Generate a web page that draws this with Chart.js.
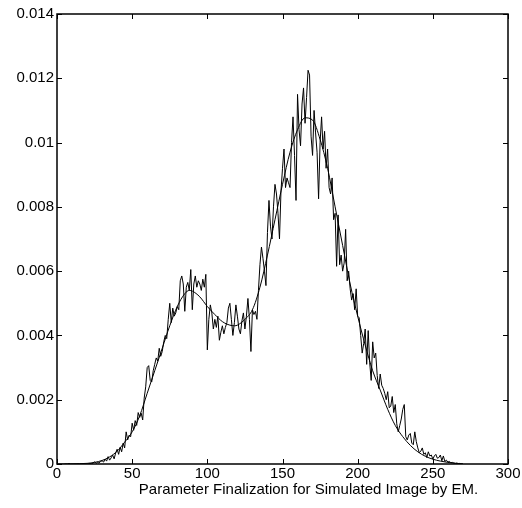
<!DOCTYPE html>
<html>
<head>
<meta charset="utf-8">
<script src="https://cdn.jsdelivr.net/npm/chart.js@4.4.1/dist/chart.umd.min.js"></script>
<style>
  html, body { margin: 0; padding: 0; background: #fff; }
  #wrap { width: 522px; height: 508px; }
</style>
</head>
<body>
<div id="wrap"><canvas id="c" width="522" height="508"></canvas></div>
<script>
// Histogram (noisy) series: one value per integer bin, starting at bin 5
const histStart = 5;
const histValues = [
  0,0,0,0.00002,0,0,0,0,0,0,
  0,0,0,0,0,0,0.00001,0.00002,0.00001,0.00003,
  0.00007,0.00002,0.00005,0.00003,0.00008,0.0001,0.00006,0.00015,0.00009,0.00023,
  0.00012,0.00019,0.00028,0.00016,0.00034,0.00046,0.0003,0.00052,0.00038,0.00065,
  0.0005,0.001,0.00075,0.0009,0.00085,0.00127,0.00105,0.00135,0.0012,0.0016,
  0.00145,0.00158,0.00137,0.00205,0.0024,0.003,0.00306,0.0026,0.00255,0.0029,
  0.0031,0.0033,0.0032,0.0036,0.00335,0.0035,0.0038,0.004,0.0039,0.0045,
  0.005,0.0044,0.00485,0.0046,0.0047,0.0049,0.0048,0.0057,0.00585,0.0056,
  0.00475,0.0055,0.00565,0.0054,0.00605,0.0048,0.0056,0.00585,0.0055,0.0057,
  0.0056,0.0054,0.00575,0.0055,0.0059,0.00355,0.0045,0.00495,0.0047,0.0042,
  0.0045,0.00425,0.0046,0.00385,0.0041,0.0043,0.00405,0.00425,0.0044,0.00485,
  0.005,0.0045,0.004,0.0044,0.00495,0.0046,0.0042,0.00405,0.00445,0.0047,
  0.0042,0.0046,0.00515,0.0045,0.0035,0.0048,0.00465,0.00475,0.0045,0.0054,
  0.0062,0.00675,0.0064,0.006,0.00555,0.0072,0.0082,0.0074,0.007,0.008,
  0.0087,0.0084,0.0078,0.007,0.0085,0.0092,0.0098,0.0086,0.0089,0.00875,
  0.0086,0.01,0.0108,0.0096,0.0082,0.0115,0.0104,0.0099,0.0112,0.0117,
  0.0106,0.0114,0.01225,0.0121,0.0102,0.0096,0.011,0.0103,0.0097,0.00825,
  0.01,0.0108,0.0098,0.01035,0.0092,0.0098,0.0086,0.0084,0.0089,0.0076,
  0.0078,0.00615,0.00775,0.0062,0.0065,0.006,0.00625,0.0073,0.0057,0.006,
  0.00545,0.0051,0.0053,0.0048,0.00545,0.0046,0.00455,0.004,0.00345,0.00375,
  0.0042,0.0031,0.00415,0.00315,0.0026,0.0038,0.0033,0.00345,0.00275,0.00235,
  0.0028,0.00245,0.00235,0.0022,0.002,0.00225,0.00175,0.0018,0.0021,0.0016,
  0.00185,0.00125,0.001,0.0012,0.0014,0.0017,0.00185,0.00085,0.00075,0.0009,
  0.00095,0.00065,0.0006,0.001,0.0007,0.0005,0.00035,0.0004,0.0005,0.0003,
  0.00035,0.0002,0.00038,0.00025,0.00028,0.00015,0.00025,0.0003,0.00018,0.0002,
  0.00028,0.0001,0.00025,0.00008,0.00012,0.00006,0.00008,0.00004,0.00005,0.00003,
  0.00002,0.00003,0.00001,0.00002
];

// Fitted (EM mixture) smooth curve
const fitX = [0,10,15,20,25,30,35,40,45,50,55,60,65,70,75,80,85,88,90,95,100,105,110,115,118,120,125,130,135,140,145,150,155,160,165,170,175,180,185,190,195,200,205,210,215,220,225,230,235,240,245,250,255,260,265,270];
const fitY = [0,0,0.00001,0.00002,0.00005,0.00011,0.00022,0.0004,0.00068,0.001,0.0015,0.0022,0.0029,0.0036,0.0043,0.0049,0.0053,0.0054,0.00538,0.0052,0.0049,0.00465,0.00443,0.00432,0.0043,0.00432,0.0045,0.0048,0.0055,0.0065,0.0076,0.0087,0.0097,0.0104,0.01077,0.0107,0.0101,0.0092,0.008,0.0068,0.0056,0.0046,0.0037,0.0029,0.0023,0.0017,0.0012,0.00085,0.00058,0.00038,0.00024,0.00015,0.00009,0.00005,0.00002,0.00001];

// Axis ticks
const xTickValues = [0,50,100,150,200,250,300];
const yTickValues = [0,0.002,0.004,0.006,0.008,0.01,0.012,0.014];
const yTickLabels = ['0','0.002','0.004','0.006','0.008','0.01','0.012','0.014'];
const xAxisLabel = 'Parameter Finalization for Simulated Image by EM.';

const histPoints = histValues.map((v, i) => ({ x: histStart + i, y: v }));
const fitPoints = fitX.map((x, i) => ({ x: x, y: fitY[i] }));

const FONT = '"Liberation Sans", Arial, Helvetica, sans-serif';

const framePlugin = {
  id: 'frame',
  afterDatasetsDraw(chart) {
    const { ctx, chartArea: a, scales } = chart;
    ctx.save();
    ctx.strokeStyle = '#000';
    ctx.lineWidth = 1.5;
    ctx.beginPath();
    ctx.rect(Math.round(a.left), Math.round(a.top), Math.round(a.right - a.left), Math.round(a.bottom - a.top));
    ctx.stroke();
    ctx.lineWidth = 1;
    const L = 5;
    ctx.beginPath();
    xTickValues.forEach(v => {
      const px = Math.round(scales.x.getPixelForValue(v)) + 0.5;
      ctx.moveTo(px, a.bottom); ctx.lineTo(px, a.bottom - L);
      ctx.moveTo(px, a.top); ctx.lineTo(px, a.top + L);
    });
    yTickValues.forEach(v => {
      const py = Math.round(scales.y.getPixelForValue(v)) + 0.5;
      ctx.moveTo(a.left, py); ctx.lineTo(a.left + L, py);
      ctx.moveTo(a.right, py); ctx.lineTo(a.right - L, py);
    });
    ctx.stroke();
    // x-axis label
    ctx.fillStyle = '#000';
    ctx.font = '15px ' + FONT;
    ctx.textAlign = 'center';
    ctx.textBaseline = 'alphabetic';
    const cx = (a.left + a.right) / 2 + 26;
    ctx.fillText(xAxisLabel, cx, a.bottom + 30);
    ctx.restore();
  }
};

new Chart(document.getElementById('c'), {
  type: 'line',
  data: {
    datasets: [
      { label: 'histogram', data: histPoints, borderColor: '#000', borderWidth: 1, pointRadius: 0, tension: 0, fill: false },
      { label: 'fit', data: fitPoints, borderColor: '#000', borderWidth: 1, pointRadius: 0, cubicInterpolationMode: 'monotone', fill: false }
    ]
  },
  options: {
    responsive: false,
    animation: false,
    events: [],
    layout: { padding: { left: 0, right: 14, top: 14, bottom: 0 } },
    plugins: { legend: { display: false }, tooltip: { enabled: false } },
    scales: {
      x: {
        type: 'linear', min: 0, max: 300,
        afterBuildTicks: s => { s.ticks = xTickValues.map(v => ({ value: v })); },
        afterFit: s => { s.height = 44; },
        grid: { display: false, drawTicks: false },
        border: { display: false },
        ticks: { color: '#000', padding: 1, font: { family: FONT, size: 15 }, maxRotation: 0, autoSkip: false, callback: v => String(v) }
      },
      y: {
        type: 'linear', min: 0, max: 0.014,
        afterBuildTicks: s => { s.ticks = yTickValues.map(v => ({ value: v })); },
        afterFit: s => { s.width = 57; },
        grid: { display: false, drawTicks: false },
        border: { display: false },
        ticks: { color: '#000', padding: 3, font: { family: FONT, size: 15 }, autoSkip: false, callback: (v, i) => yTickLabels[i] }
      }
    }
  },
  plugins: [framePlugin]
});
</script>
</body>
</html>
